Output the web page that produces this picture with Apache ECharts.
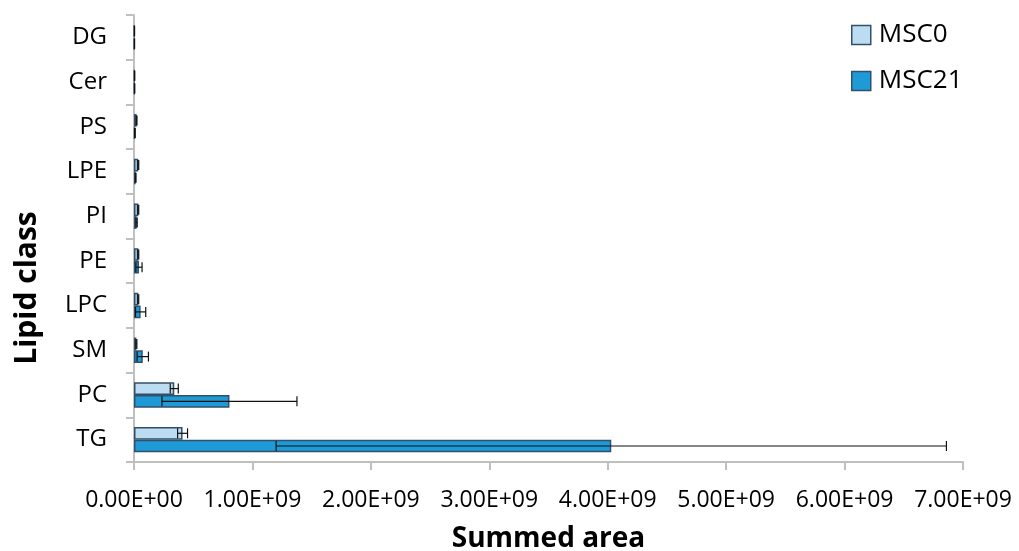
<!DOCTYPE html>
<html><head><meta charset="utf-8">
<script src="https://cdn.jsdelivr.net/npm/echarts@6/dist/echarts.min.js"></script>
<style>html,body{margin:0;padding:0;background:#fff}#c{width:1019px;height:551px}</style>
</head><body><div id="c"></div>
<script>
var categories = ['TG','PC','SM','LPC','PE','PI','LPE','PS','Cer','DG'];
var msc0 = [4.1e8, 3.4e8, 2.0e7, 3.6e7, 3.6e7, 3.6e7, 3.6e7, 2.2e7, 5e6, 4e6];
var msc0Err = [4.2e7, 3.4e7, 4e6, 4e6, 4e6, 4e6, 4e6, 3e6, 1e6, 1e6];
var msc21 = [4.03e9, 8.06e8, 7.4e7, 5.6e7, 4.2e7, 2.2e7, 1.4e7, 8e6, 5e6, 4e6];
var msc21Err = [2.83e9, 5.7e8, 4.8e7, 4.3e7, 2.6e7, 5e6, 3e6, 2e6, 1e6, 1e6];

var chart = echarts.init(document.getElementById('c'));
var BW = 12.7;
function errSeries(vals, errs, off) {
  return {
    type: 'custom', silent: true, z: 10,
    data: vals.map(function(v,i){ return [v, i, errs[i]]; }),
    encode: {x: 0, y: 1},
    renderItem: function(params, api) {
      var v = api.value(0), idx = api.value(1), e = api.value(2);
      var lo = api.coord([v - e, idx]);
      var hi = api.coord([v + e, idx]);
      var y = lo[1] + off;
      var h = 5;
      var st = {stroke: '#111', lineWidth: 1.2};
      return {type: 'group', children: [
        {type: 'line', shape: {x1: lo[0], y1: y, x2: hi[0], y2: y}, style: st},
        {type: 'line', shape: {x1: lo[0], y1: y - h, x2: lo[0], y2: y + h}, style: st},
        {type: 'line', shape: {x1: hi[0], y1: y - h, x2: hi[0], y2: y + h}, style: st}
      ]};
    }
  };
}
var font = 'Open Sans';
chart.setOption({
  animation: false,
  grid: {left: 134, right: 56, top: 15, bottom: 89, containLabel: false, outerBoundsMode: 'none'},
  legend: {
    left: 846, top: 17, orient: 'vertical', itemWidth: 19, itemHeight: 19, itemGap: 20, icon: 'rect',
    itemStyle: {borderColor: '#33506b', borderWidth: 1.5},
    textStyle: {fontFamily: font, fontSize: 26, color: '#000', padding: [0, 0, 0, 3]},
    data: ['MSC0','MSC21']
  },
  xAxis: {
    type: 'value', min: 0, max: 7e9, interval: 1e9,
    axisLine: {show: true, lineStyle: {color: '#bfbfbf', width: 2}},
    axisTick: {show: true, length: 8, lineStyle: {color: '#bfbfbf', width: 2}},
    splitLine: {show: false},
    axisLabel: {fontFamily: font, fontSize: 23, color: '#000', margin: 27,
      formatter: function(v){ var e = v === 0 ? 0 : Math.floor(Math.log10(v)); var m = v / Math.pow(10, e); return m.toFixed(2) + 'E+' + (e < 10 ? '0' : '') + e; }},
    name: 'Summed area', nameLocation: 'middle', nameGap: 63,
    nameTextStyle: {fontFamily: font, fontSize: 28, fontWeight: 'bold', color: '#000'}
  },
  yAxis: {
    type: 'category', data: categories,
    axisLine: {show: true, lineStyle: {color: '#bfbfbf', width: 2}},
    axisTick: {show: true, length: 8, lineStyle: {color: '#bfbfbf', width: 2}},
    axisLabel: {fontFamily: font, fontSize: 24, color: '#000', margin: 27}
  },
  graphic: [{type: 'text', x: 27, y: 288, rotation: Math.PI/2,
    style: {text: 'Lipid class', fontFamily: font, fontSize: 30, fontWeight: 'bold', fill: '#000', align: 'center', verticalAlign: 'middle'}}],
  series: [
    {name: 'MSC0', type: 'bar', data: msc0, barWidth: BW, barGap: '0%',
     itemStyle: {color: '#bcdcf2', borderColor: '#33506b', borderWidth: 1.5}},
    {name: 'MSC21', type: 'bar', data: msc21, barWidth: BW, barGap: '0%',
     itemStyle: {color: '#1e9bd7', borderColor: '#33506b', borderWidth: 1.5}},
    errSeries(msc0, msc0Err, -BW/2),
    errSeries(msc21, msc21Err, BW/2)
  ]
});
</script></body></html>
